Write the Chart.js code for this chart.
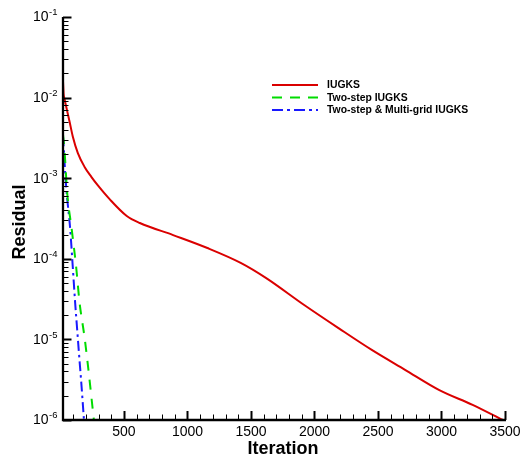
<!DOCTYPE html>
<html>
<head>
<meta charset="utf-8">
<script src="https://cdn.jsdelivr.net/npm/chart.js@4.4.1/dist/chart.umd.min.js"></script>
<style>
  html, body { margin: 0; padding: 0; background: #fff; }
  #wrap { width: 524px; height: 461px; }
</style>
</head>
<body>
<div id="wrap"><canvas id="myChart" width="524" height="461"></canvas></div>
<script>
// values
const iugksIter = [20, 25, 32, 53, 71, 97, 137, 190, 243, 293, 387, 522, 625, 887, 1157, 1419, 1617, 1919, 2189, 2451, 2713, 2983, 3245, 3483];
const iugksRes = [1.6e-2, 1.1e-2, 9.6e-3, 6.8e-3, 5.1e-3, 3.3e-3, 2.05e-3, 1.38e-3, 1.04e-3, 8.2e-4, 5.5e-4, 3.4e-4, 2.78e-4, 1.97e-4, 1.36e-4, 8.9e-5, 5.8e-5, 2.67e-5, 1.38e-5, 7.4e-6, 4.2e-6, 2.35e-6, 1.54e-6, 1.0e-6];

const twoStepIter = [20, 32, 53, 89, 124, 150, 190, 216, 263];
const twoStepRes = [3.5e-3, 2.2e-3, 6.6e-4, 2.3e-4, 7.8e-5, 2.9e-5, 1.05e-5, 4.8e-6, 1.0e-6];

const multiGridIter = [20, 45, 77, 97, 116, 132, 150, 164, 185];
const multiGridRes = [3.3e-3, 7.8e-4, 2.3e-4, 7.9e-5, 2.8e-5, 1.3e-5, 5.5e-6, 2.9e-6, 1.0e-6];

const seriesNames = ['IUGKS', 'Two-step IUGKS', 'Two-step & Multi-grid IUGKS'];
const xTicks = [500, 1000, 1500, 2000, 2500, 3000, 3500];
const yExponents = [-6, -5, -4, -3, -2, -1];

function toPoints(xs, ys) {
    return xs.map((x, i) => ({ x: x, y: ys[i] }));
}

const FONT = '"Liberation Sans", Arial, Helvetica, sans-serif';

// axes, ticks, labels and legend drawn in Tecplot style
const tecplotAxes = {
    id: 'tecplotAxes',
    afterDraw(chart) {
        const ctx = chart.ctx;
        const xs = chart.scales.x;
        const ys = chart.scales.y;
        const a = chart.chartArea;
        ctx.save();
        ctx.strokeStyle = '#000';
        ctx.fillStyle = '#000';

        // axis lines
        ctx.lineWidth = 2.3;
        ctx.beginPath();
        ctx.moveTo(a.left, a.top);
        ctx.lineTo(a.left, a.bottom);
        ctx.lineTo(a.right + 1, a.bottom);
        ctx.stroke();

        // x ticks
        for (let v = 100; v <= xs.max; v += 100) {
            const px = Math.round(xs.getPixelForValue(v)) + 0.5;
            const major = v % 500 === 0;
            ctx.lineWidth = major ? 2 : 1;
            ctx.beginPath();
            ctx.moveTo(px, a.bottom);
            ctx.lineTo(px, a.bottom - (major ? 9 : 5.5));
            ctx.stroke();
        }
        ctx.font = '14px ' + FONT;
        ctx.textAlign = 'center';
        ctx.textBaseline = 'middle';
        xTicks.forEach(v => {
            ctx.fillText(String(v), xs.getPixelForValue(v), a.bottom + 12.5);
        });

        // y ticks
        yExponents.forEach(e => {
            for (let m = 1; m <= 9; m++) {
                if (e === yExponents[yExponents.length - 1] && m > 1) break;
                const val = m * Math.pow(10, e);
                const py = Math.round(ys.getPixelForValue(val)) + 0.5;
                const major = m === 1;
                ctx.lineWidth = major ? 2 : 1;
                ctx.beginPath();
                ctx.moveTo(a.left, py);
                ctx.lineTo(a.left + (major ? 8.5 : 5.5), py);
                ctx.stroke();
            }
        });
        yExponents.forEach(e => {
            const py = ys.getPixelForValue(Math.pow(10, e));
            ctx.font = '14px ' + FONT;
            ctx.textAlign = 'right';
            ctx.textBaseline = 'middle';
            ctx.fillText('10', 48.5, py + 0.5);
            ctx.font = '9.5px ' + FONT;
            ctx.textAlign = 'left';
            ctx.fillText(String(e), 49, py - 4.5);
        });

        // axis titles
        ctx.font = 'bold 18px ' + FONT;
        ctx.textAlign = 'center';
        ctx.textBaseline = 'middle';
        ctx.fillText('Iteration', (a.left + a.right) / 2 - 1, 449);
        ctx.save();
        ctx.translate(20, 222);
        ctx.rotate(-Math.PI / 2);
        ctx.fillText('Residual', 0, 0);
        ctx.restore();

        // legend
        const rows = [85, 97.5, 110];
        ctx.font = 'bold 10.4px ' + FONT;
        ctx.textAlign = 'left';
        chart.data.datasets.forEach((ds, i) => {
            const y = rows[i];
            ctx.strokeStyle = ds.borderColor;
            ctx.lineWidth = ds.borderWidth;
            ctx.setLineDash(ds.legendDash);
            ctx.beginPath();
            ctx.moveTo(272, y);
            ctx.lineTo(318, y);
            ctx.stroke();
            ctx.setLineDash([]);
            ctx.fillStyle = '#000';
            ctx.fillText(ds.label, 327, y + 0.5);
        });
        ctx.restore();
    }
};

const ctx = document.getElementById('myChart').getContext('2d');
const myChart = new Chart(ctx, {
    type: 'line',
    data: {
        datasets: [
            {
                label: seriesNames[0],
                data: toPoints(iugksIter, iugksRes),
                borderColor: 'rgb(218, 0, 0)',
                borderWidth: 2,
                legendDash: [],
                cubicInterpolationMode: 'monotone'
            },
            {
                label: seriesNames[1],
                data: toPoints(twoStepIter, twoStepRes),
                borderColor: 'rgb(0, 220, 0)',
                borderWidth: 2,
                borderDash: [10, 9],
                legendDash: [10, 8],
                cubicInterpolationMode: 'monotone'
            },
            {
                label: seriesNames[2],
                data: toPoints(multiGridIter, multiGridRes),
                borderColor: 'rgb(25, 25, 255)',
                borderWidth: 2,
                borderDash: [10, 4, 2.5, 4],
                legendDash: [11, 4, 3, 4],
                cubicInterpolationMode: 'monotone'
            }
        ]
    },
    options: {
        responsive: false,
        animation: false,
        parsing: false,
        elements: { point: { radius: 0 } },
        layout: { padding: { left: 63, right: 19, top: 17, bottom: 41 } },
        scales: {
            x: { type: 'linear', min: 20, max: 3500, display: false },
            y: { type: 'logarithmic', min: 1e-6, max: 1e-1, display: false }
        },
        plugins: {
            legend: { display: false },
            tooltip: { enabled: false }
        }
    },
    plugins: [tecplotAxes]
});
</script>
</body>
</html>
